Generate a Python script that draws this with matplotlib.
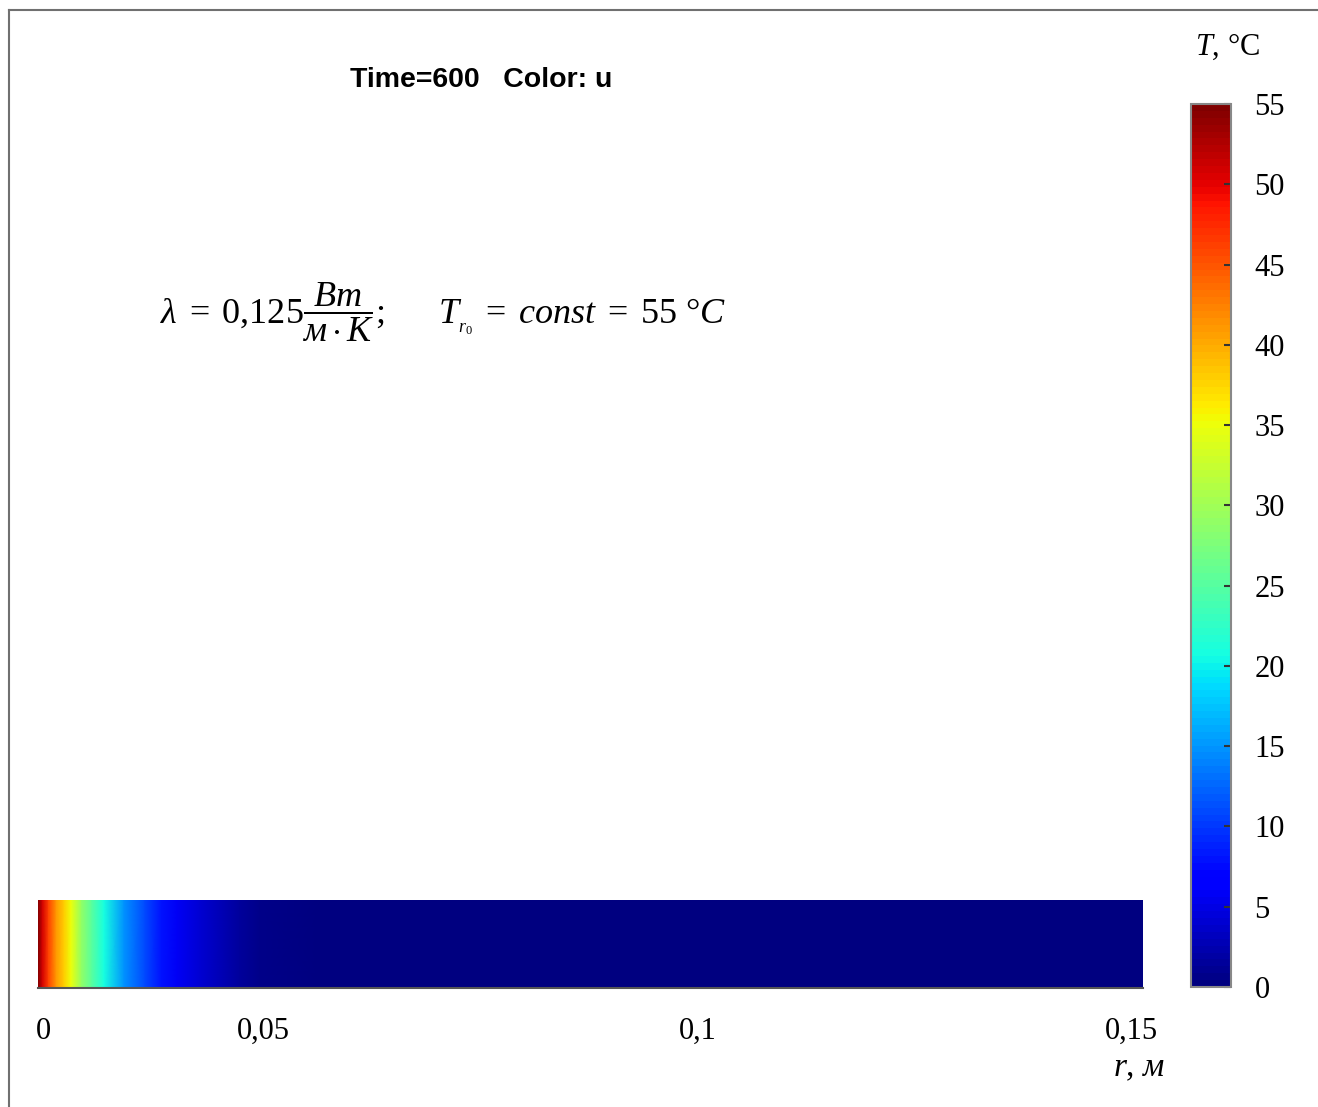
import numpy as np
import matplotlib
matplotlib.use('Agg')
import matplotlib.pyplot as plt
from matplotlib.lines import Line2D

plt.rcParams['font.family'] = ['Liberation Serif', 'DejaVu Serif']
plt.rcParams['mathtext.fontset'] = 'custom'
plt.rcParams['mathtext.rm'] = 'Liberation Serif'
plt.rcParams['mathtext.it'] = 'Liberation Serif:italic'

# радиальный профиль температуры, t = 600 c
r = [0.0241, 0.0246, 0.0253, 0.0262, 0.0271, 0.0279, 0.0291, 0.0303, 0.0317,
     0.0340, 0.0364, 0.0383, 0.0401, 0.0428, 0.0474, 0.0497, 0.0566, 0.1513]
T = [55, 51, 46, 41, 38, 35, 29, 25, 21,
     15, 11, 8, 6, 4, 1.5, 0.5, 0, 0]

r_ticks = [0.0247, 0.05, 0.1, 0.15]
r_labels = ['0', '0,05', '0,1', '0,15']
T_ticks = [0, 5, 10, 15, 20, 25, 30, 35, 40, 45, 50, 55]

W, H = 1318, 1107
fig = plt.figure(figsize=(W / 100, H / 100), dpi=100)

def px_box(x0, y0, x1, y1):
    return [x0 / W, 1 - y1 / H, (x1 - x0) / W, (y1 - y0) / H]

ax = fig.add_axes(px_box(38, 900, 1143, 988))
rr, yy = np.meshgrid(r, [0, 1])
TT = np.vstack([T, T])
cmap = plt.get_cmap('jet', 128)
mesh = ax.pcolormesh(rr, yy, TT, cmap=cmap, vmin=0, vmax=55, shading='gouraud')
ax.set_xlim(r[0], r[-1])
ax.set_ylim(0, 1)
ax.set_yticks([])
ax.set_xticks(r_ticks)
ax.set_xticklabels(r_labels, fontsize=22)
ax.tick_params(axis='x', length=0, pad=21)
for s in ['top', 'left', 'right']:
    ax.spines[s].set_visible(False)
ax.spines['bottom'].set_color('#555555')
ax.spines['bottom'].set_linewidth(1.5)

fig.text(1165 / W, 1 - 1068 / H, r'$r$, $м$', fontsize=24, ha='right', va='center')

cax = fig.add_axes(px_box(1191, 104, 1231, 987))
cb = fig.colorbar(mesh, cax=cax, ticks=T_ticks)
cb.outline.set_edgecolor('#888888')
cb.outline.set_linewidth(1.5)
cax.tick_params(direction='in', length=5, width=1.5, color='#333333',
                labelsize=22, pad=17)
fig.text(1228 / W, 1 - 47 / H, r'$T$, °C', fontsize=22, ha='center', va='center')

fig.text(481 / W, 1 - 80 / H, 'Time=600   Color: u', fontsize=20.5, fontweight='bold',
         family='Liberation Sans', ha='center', va='center')

fig.text(160 / W, 1 - 312 / H,
         r'$\lambda \;=\; 0{,}125\dfrac{Вт}{м \cdot К};\quad\;\;\; '
         r'T_{_{r_0}} \;=\; const \;=\; 55\ °C$',
         fontsize=26, ha='left', va='center')

# рамка
fig.add_artist(Line2D([9 / W, 1], [1 - 10 / H, 1 - 10 / H], color='#707070', lw=1.5))
fig.add_artist(Line2D([9 / W, 9 / W], [0, 1 - 10 / H], color='#707070', lw=1.5))

fig.savefig('out.png', dpi=100, facecolor='white')
